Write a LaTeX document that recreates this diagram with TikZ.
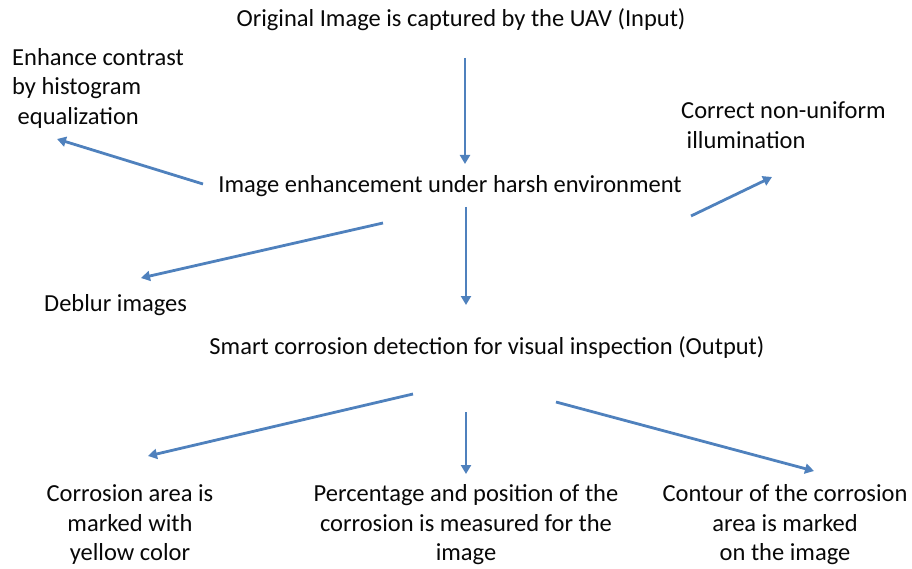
\documentclass[tikz,border=0pt]{standalone}
\usepackage{fontspec}
\setmainfont{Carlito}
\usetikzlibrary{arrows.meta}
\definecolor{arrowblue}{RGB}{79,129,189}
\definecolor{inktext}{RGB}{8,8,8}
\tikzset{
  label/.style={inner sep=0pt, text=inktext, font=\fontsize{24.5}{29.5}\selectfont, align=center},
  leftlabel/.style={label, align=left},
  flow/.style={draw=arrowblue, line width=2.8pt, -{Triangle[length=9pt,width=10pt]}},
}
\begin{document}
\begin{tikzpicture}[x=1pt,y=-1pt]
\useasboundingbox (0,0) rectangle (912,569);

% text blocks
\node[label] (input) at (461,20) {Original Image is captured by the UAV (Input)};
\node[leftlabel, anchor=west] (hist) at (12,88) {Enhance contrast\\by histogram\\\ equalization};
\node[label] (enh) at (450,186) {Image enhancement under harsh environment};
\node[leftlabel, anchor=west] (illum) at (681,125) {Correct non-uniform\\\ illumination};
\node[label, anchor=west] (deblur) at (44,305) {Deblur images};
\node[label] (output) at (487,348) {Smart corrosion detection for visual inspection (Output)};
\node[label] (yellow) at (130,525) {Corrosion area is\\marked with\\yellow color};
\node[label] (percent) at (466,525) {Percentage and position of the\\corrosion is measured for the\\image};
\node[label] (contour) at (785,525) {Contour of the corrosion\\area is marked\\on the image};

% arrow end points
\coordinate (inputTail) at (465,58);
\coordinate (enhTop) at (465,164);
\coordinate (enhLeft) at (203,184);
\coordinate (histTip) at (57,139);
\coordinate (enhRight) at (691,216);
\coordinate (illumTip) at (772,177);
\coordinate (enhLow) at (383,223);
\coordinate (deblurTip) at (141,278);
\coordinate (enhBottom) at (466,207);
\coordinate (outputTop) at (466,305);
\coordinate (outLeft) at (413,394);
\coordinate (yellowTip) at (148,456);
\coordinate (outMid) at (466,412);
\coordinate (percentTip) at (466,474);
\coordinate (outRight) at (556,402);
\coordinate (contourTip) at (814,471);

% connectors
\draw[flow] (inputTail) -- (enhTop);
\draw[flow] (enhLeft) -- (histTip);
\draw[flow] (enhRight) -- (illumTip);
\draw[flow] (enhLow) -- (deblurTip);
\draw[flow] (enhBottom) -- (outputTop);
\draw[flow] (outLeft) -- (yellowTip);
\draw[flow] (outMid) -- (percentTip);
\draw[flow] (outRight) -- (contourTip);
\end{tikzpicture}
\end{document}
